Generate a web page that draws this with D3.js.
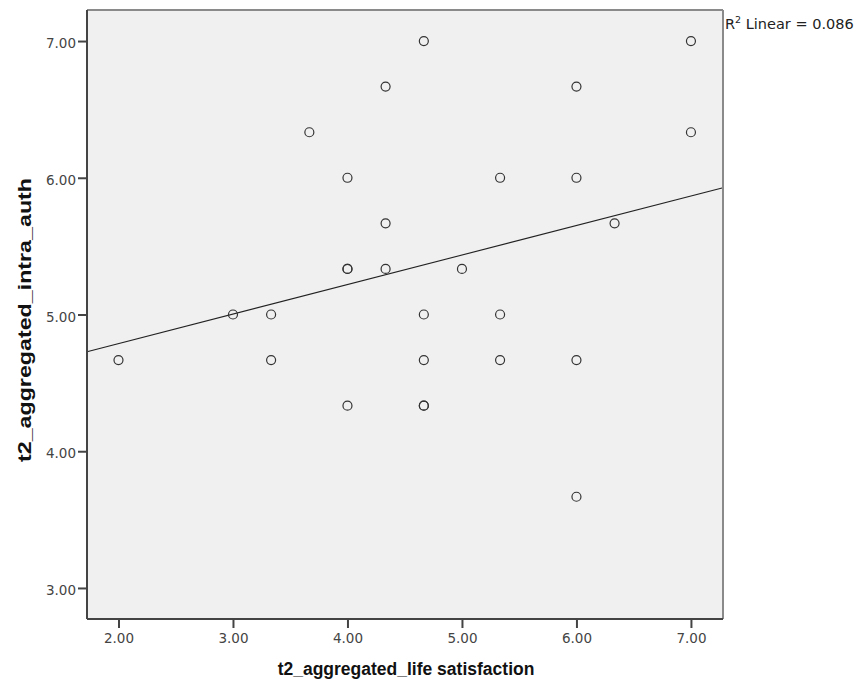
<!DOCTYPE html>
<html>
<head>
<meta charset="utf-8">
<script src="https://cdn.jsdelivr.net/npm/d3@7/dist/d3.min.js"></script>
<style>
  html, body { margin: 0; padding: 0; background: #fff; }
  svg { display: block; font-family: "DejaVu Sans", "Liberation Sans", Arial, sans-serif; }
</style>
</head>
<body>
<svg id="chart" width="863" height="686"></svg>
<script>
// Life satisfaction (x) vs. intra authority (y), aggregated at t2.
// Two cases share coordinates with another case (4.00/5.33 and 4.67/4.33).
const lifeSatisfaction = [2.00, 3.00, 3.333, 3.333, 3.667, 4.00, 4.00, 4.00, 4.00, 4.333, 4.333, 4.333,
  4.667, 4.667, 4.667, 4.667, 4.667, 5.00, 5.333, 5.333, 5.333, 6.00, 6.00, 6.00, 6.00, 6.333, 7.00, 7.00];
const intraAuth = [4.667, 5.00, 5.00, 4.667, 6.333, 6.00, 5.333, 5.333, 4.333, 6.667, 5.667, 5.333,
  7.00, 5.00, 4.667, 4.333, 4.333, 5.333, 6.00, 5.00, 4.667, 6.667, 6.00, 4.667, 3.667, 5.667, 7.00, 6.333];
const xTicks = [2, 3, 4, 5, 6, 7];
const yTicks = [3, 4, 5, 6, 7];
const rSquaredLabel = "0.086";

const svg = d3.select("#chart");
const frame = { left: 87, right: 723, top: 10, bottom: 619 };

const x = d3.scaleLinear().domain([1.725, 7.28]).range([frame.left, frame.right]);
const y = d3.scaleLinear().domain([2.773, 7.227]).range([frame.bottom, frame.top]);

// plot background
svg.append("rect")
  .attr("x", frame.left).attr("y", frame.top)
  .attr("width", frame.right - frame.left).attr("height", frame.bottom - frame.top)
  .attr("fill", "#f0f0f0");

// least-squares fit line across the full x range
const n = lifeSatisfaction.length;
const mx = d3.mean(lifeSatisfaction), my = d3.mean(intraAuth);
let sxy = 0, sxx = 0;
for (let i = 0; i < n; i++) {
  sxy += (lifeSatisfaction[i] - mx) * (intraAuth[i] - my);
  sxx += (lifeSatisfaction[i] - mx) ** 2;
}
const slope = sxy / sxx, intercept = my - slope * mx;
const [x0, x1] = x.domain();
svg.append("line")
  .attr("x1", x(x0)).attr("y1", y(intercept + slope * x0))
  .attr("x2", x(x1)).attr("y2", y(intercept + slope * x1))
  .attr("stroke", "#222").attr("stroke-width", 1.1);

// points (hollow circles)
svg.append("g").selectAll("circle")
  .data(lifeSatisfaction.map((v, i) => [v, intraAuth[i]]))
  .join("circle")
  .attr("cx", d => x(d[0])).attr("cy", d => y(d[1]))
  .attr("r", 4.5)
  .attr("fill", "none")
  .attr("stroke", "#333")
  .attr("stroke-width", 1.2);

// frame: top/right lighter, left/bottom dark
svg.append("line").attr("x1", frame.left).attr("x2", frame.right).attr("y1", frame.top).attr("y2", frame.top)
  .attr("stroke", "#8a8a8a").attr("stroke-width", 2);
svg.append("line").attr("x1", frame.right).attr("x2", frame.right).attr("y1", frame.top).attr("y2", frame.bottom)
  .attr("stroke", "#8a8a8a").attr("stroke-width", 2);

const xAxis = d3.axisBottom(x).tickValues(xTicks).tickFormat(d3.format(".2f")).tickSize(9).tickSizeOuter(0);
const yAxis = d3.axisLeft(y).tickValues(yTicks).tickFormat(d3.format(".2f")).tickSize(9).tickPadding(2).tickSizeOuter(0);

const gx = svg.append("g").attr("transform", `translate(0,${frame.bottom})`).call(xAxis);
const gy = svg.append("g").attr("transform", `translate(${frame.left},0)`).call(yAxis);

[gx, gy].forEach(g => {
  g.select(".domain").attr("stroke", "#444").attr("stroke-width", 2);
  g.selectAll(".tick line").attr("stroke", "#444").attr("stroke-width", 2);
  g.selectAll(".tick text").attr("fill", "#444").attr("font-size", 13.5)
    .attr("font-family", "'DejaVu Sans', 'Liberation Sans', sans-serif");
});
gx.selectAll(".tick text").attr("dy", 0).attr("y", 24);
gy.selectAll(".tick text").attr("dy", "0.5em");
gx.select(".domain").attr("d", `M${frame.left},0H${frame.right}`);
gy.select(".domain").attr("d", `M0,${frame.top}V${frame.bottom}`);

// axis titles
svg.append("text")
  .attr("x", (frame.left + frame.right) / 2 + 1).attr("y", 675)
  .attr("text-anchor", "middle")
  .attr("font-family", "'Liberation Sans', Arial, sans-serif")
  .attr("font-size", 17.5).attr("font-weight", "bold").attr("fill", "#111")
  .text("t2_aggregated_life satisfaction");

svg.append("text")
  .attr("transform", `translate(31,320) rotate(-90)`)
  .attr("text-anchor", "middle")
  .attr("font-family", "'Liberation Sans', Arial, sans-serif")
  .attr("font-size", 18).attr("font-weight", "bold").attr("fill", "#111")
  .attr("textLength", 284).attr("lengthAdjust", "spacingAndGlyphs")
  .text("t2_aggregated_intra_auth");

// R² annotation
const r2 = svg.append("text").attr("x", 725).attr("y", 29)
  .attr("font-size", 14.5).attr("fill", "#222");
r2.append("tspan").text("R");
r2.append("tspan").attr("font-size", 9.5).attr("dy", -6).text("2");
r2.append("tspan").attr("dy", 6).text(" Linear = " + rSquaredLabel);
</script>
</body>
</html>
